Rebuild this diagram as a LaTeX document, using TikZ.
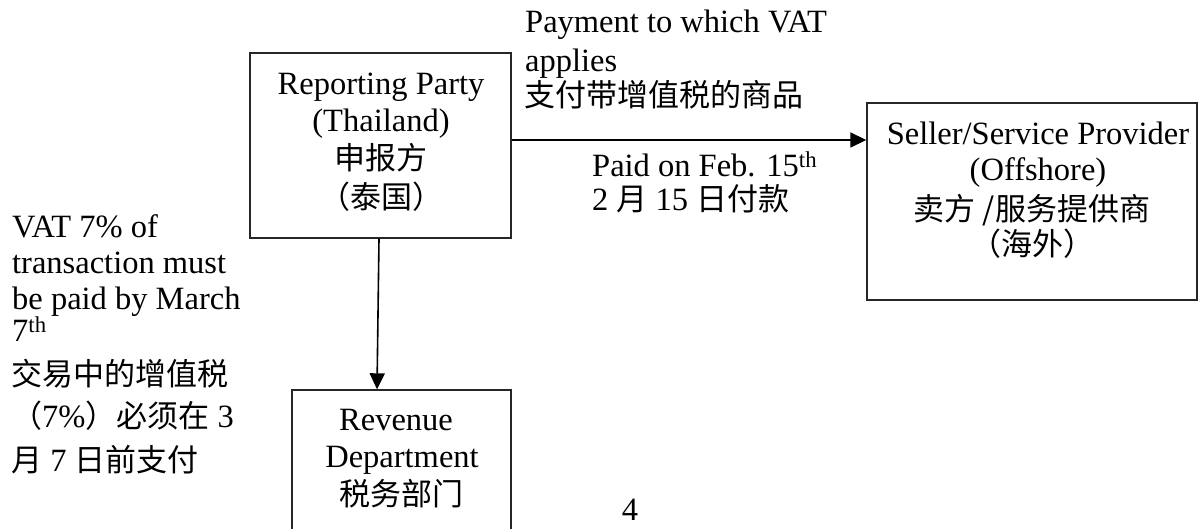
\documentclass[tikz,border=0pt]{standalone}
\usepackage{fontspec}
\setmainfont{Liberation Serif}
\newfontfamily\cjk{Noto Sans CJK SC}
\usetikzlibrary{arrows.meta}
\newcommand\zhtext[1]{{\cjk\fontsize{31}{36}\selectfont #1}}
\begin{document}
\begin{tikzpicture}[x=1pt,y=-1pt,
  every node/.style={inner sep=0pt, font=\fontsize{32.5}{36}\selectfont},
  box/.style={draw=black!85, line width=1.4pt, rectangle},
  txt/.style={anchor=base},
  ltxt/.style={anchor=base west},
  arr/.style={line width=1.6pt, -{Triangle[length=16pt,width=15pt]}}]
\clip (0,0) rectangle (1200,529);
\fill[white] (0,0) rectangle (1200,529);
% boxes
\node[box, minimum width=261pt, minimum height=185pt] (rep) at (380.5,145.5) {};
\node[box, minimum width=330pt, minimum height=197pt] (sell) at (1032,201.5) {};
\node[box, minimum width=219pt, minimum height=160pt] (rev) at (401.5,470) {};
% box texts
\node[txt] (rep1) at (381,95) {Reporting Party};
\node[txt] (rep2) at (381,132) {(Thailand)};
\node[txt] (rep3) at (381,170) {\zhtext{申报方}};
\node[txt] (rep4) at (381,209) {\zhtext{（泰国）}};
\node[txt] (sell1) at (1038,145) {Seller/Service Provider};
\node[txt] (sell2) at (1038,181) {(Offshore)};
\node[txt] (sell3) at (1032,221) {\zhtext{卖方 /服务提供商}};
\node[txt] (sell4) at (1032,256) {\zhtext{（海外）}};
\node[txt] (rev1) at (396,430) {Revenue};
\node[txt] (rev2) at (402,467) {Department};
\node[txt] (rev3) at (401,505) {\zhtext{税务部门}};
% edge labels
\node[ltxt] (pay1) at (525,33) {Payment to which VAT};
\node[ltxt] (pay2) at (525,72) {applies};
\node[ltxt] (pay3) at (524,107) {\zhtext{支付带增值税的商品}};
\node[ltxt] (paid1) at (592,177) {Paid on Feb. 15\textsuperscript{th}};
\node[ltxt] (paid2) at (592,211) {2 \zhtext{月} 15 \zhtext{日付款}};
% left note
\node[ltxt] (l1) at (12,238) {VAT 7\% of};
\node[ltxt] (l2) at (12,274) {transaction must};
\node[ltxt] (l3) at (12,310) {be paid by March};
\node[ltxt] (l4) at (12,342) {7\textsuperscript{th}};
\node[ltxt] (l5) at (11,385) {\zhtext{交易中的增值税}};
\node[ltxt] (l6) at (11,428) {\zhtext{（}7\%\zhtext{）必须在} 3};
\node[ltxt] (l7) at (11,471) {\zhtext{月} 7 \zhtext{日前支付}};
% page number
\node[txt] (pg) at (630,520) {4};
% connectors
\coordinate (hy) at (0,140);
\coordinate (vx1) at (379,0);
\coordinate (vx2) at (377,0);
\draw[arr] (rep.east |- hy) -- (sell.west |- hy);
\draw[arr] (rep.south -| vx1) -- (rev.north -| vx2);
\end{tikzpicture}
\end{document}
